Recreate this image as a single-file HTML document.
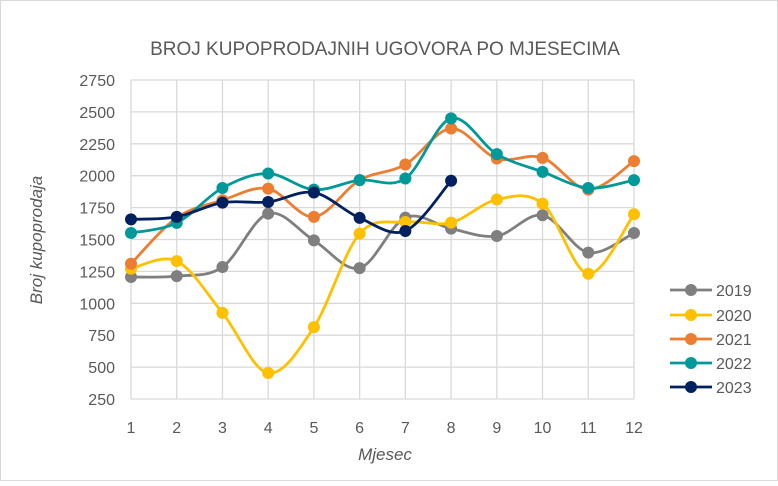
<!DOCTYPE html>
<html><head><meta charset="utf-8"><style>
body{margin:0;background:#fff}
svg text{font-family:"Liberation Sans",sans-serif;fill:#595959}
</style></head><body>
<svg id="chart" width="778" height="481">
<rect x="0.5" y="0.5" width="777" height="480" fill="#fff" stroke="#d9d9d9"/>
<text x="385" y="55" text-anchor="middle" font-size="19">BROJ KUPOPRODAJNIH UGOVORA PO MJESECIMA</text>
<g id="grid"></g><g id="series"></g><g id="legend"></g>
<text x="385" y="460" text-anchor="middle" font-size="17" font-style="italic">Mjesec</text>
<text transform="translate(42,240) rotate(-90)" text-anchor="middle" font-size="17" font-style="italic">Broj kupoprodaja</text>
</svg>
<script>
const months=[1,2,3,4,5,6,7,8,9,10,11,12];
const yTicks=[250,500,750,1000,1250,1500,1750,2000,2250,2500,2750];
const seriesNames=["2019","2020","2021","2022","2023"];
const colors=["#7f7f7f","#ffc000","#ed7d31","#009999","#002060"];
const v2019=[1206,1213,1284,1703,1493,1276,1671,1585,1527,1690,1397,1551];
const v2020=[1271,1331,925,454,813,1546,1637,1632,1813,1781,1232,1698];
const v2021=[1310,1670,1808,1899,1677,1965,2088,2370,2135,2140,1891,2114];
const v2022=[1551,1630,1904,2017,1891,1965,1978,2449,2169,2030,1904,1965];
const v2023=[1658,1677,1789,1794,1868,1669,1567,1960];
const allSeries=[v2019,v2020,v2021,v2022,v2023];
const NS="http://www.w3.org/2000/svg";
const X=m=>131+(m-1)*(634-131)/11;
const Y=v=>399-(v-250)*(399-80)/2500;
function mk(t,a,p){const e=document.createElementNS(NS,t);for(const k in a)e.setAttribute(k,a[k]);p.appendChild(e);return e;}
const grid=document.getElementById('grid');
yTicks.forEach(t=>{
  const l=mk('line',{x1:131,x2:634,y1:Y(t),y2:Y(t),stroke:'#d9d9d9','stroke-width':1.3},grid);
  
  
  const tx=mk('text',{x:115,y:Y(t)+6,'text-anchor':'end','font-size':16},grid);tx.textContent=t;
  
  
});
months.forEach(m=>{
  const l=mk('line',{x1:X(m),x2:X(m),y1:80,y2:399,stroke:'#d9d9d9','stroke-width':1.3},grid);
  
  
  const tx=mk('text',{x:X(m),y:433,'text-anchor':'middle','font-size':16},grid);tx.textContent=m;
  
  
});
function smooth(pts){let d=`M${pts[0][0]},${pts[0][1]}`;
  for(let i=0;i<pts.length-1;i++){const p0=pts[i-1]||pts[i],p1=pts[i],p2=pts[i+1],p3=pts[i+2]||p2;
    const c1=[p1[0]+(p2[0]-p0[0])/6,p1[1]+(p2[1]-p0[1])/6],c2=[p2[0]-(p3[0]-p1[0])/6,p2[1]-(p3[1]-p1[1])/6];
    d+=` C${c1[0]},${c1[1]} ${c2[0]},${c2[1]} ${p2[0]},${p2[1]}`;}return d;}
const sg=document.getElementById('series');
allSeries.forEach((vals,si)=>{
  const g=mk('g',{},sg);
  
  
  const pts=vals.map((v,i)=>[X(months[i]),Y(v)]);
  const p=mk('path',{d:smooth(pts),fill:'none',stroke:colors[si],'stroke-width':2.8},g);
  
  
  pts.forEach((q,i)=>{const c=mk('circle',{cx:q[0],cy:q[1],r:6,fill:colors[si]},g);
    
    });
});
const lg=document.getElementById('legend');
seriesNames.forEach((n,i)=>{const y=[290,315,339,363,387][i];
  const g=mk('g',{},lg);
  
  
  mk('line',{x1:670,x2:712,y1:y,y2:y,stroke:colors[i],'stroke-width':2.8},g);
  mk('circle',{cx:691,cy:y,r:6,fill:colors[i]},g);
  const t=mk('text',{x:716,y:y+6,'font-size':16},g);t.textContent=n;});
</script>
</body></html>
